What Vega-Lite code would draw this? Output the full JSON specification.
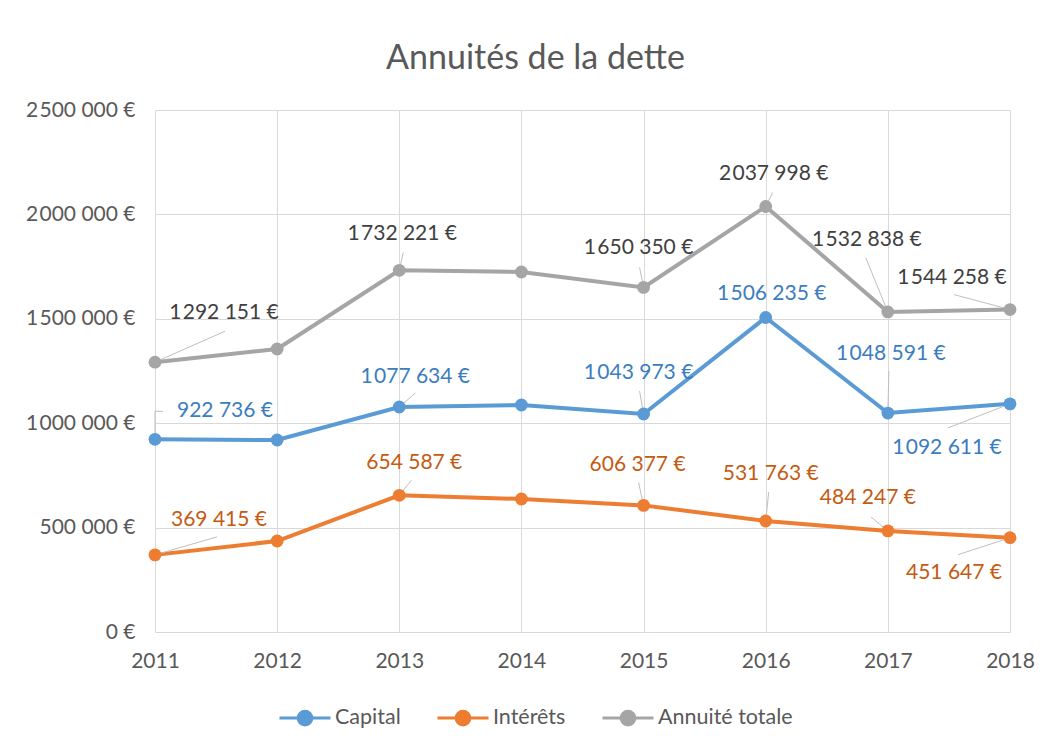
{
  "$schema": "https://vega.github.io/schema/vega-lite/v6.json",
  "width": 855,
  "height": 522,
  "autosize": {"type": "none"},
  "padding": {"left": 155, "top": 110, "right": 40, "bottom": 117},
  "background": "white",
  "title": {"text": "Annuités de la dette", "anchor": "middle", "frame": "group", "dx": -47, "offset": 23, "font": "Lato", "fontSize": 34, "fontWeight": "normal", "color": "#595959"},
  "config": {
    "view": {"stroke": null},
    "axis": {"labelFont": "Lato", "labelFontSize": 21, "labelColor": "#595959", "gridColor": "#D9D9D9", "gridWidth": 1, "domain": false, "ticks": false, "title": null},
    "text": {"font": "Lato", "fontSize": 21}
  },
  "data": {
    "values": [
      {"annee": "2011", "serie": "Capital", "montant": 922736},
      {"annee": "2012", "serie": "Capital", "montant": 919500},
      {"annee": "2013", "serie": "Capital", "montant": 1077634},
      {"annee": "2014", "serie": "Capital", "montant": 1087000},
      {"annee": "2015", "serie": "Capital", "montant": 1043973},
      {"annee": "2016", "serie": "Capital", "montant": 1506235},
      {"annee": "2017", "serie": "Capital", "montant": 1048591},
      {"annee": "2018", "serie": "Capital", "montant": 1092611},
      {"annee": "2011", "serie": "Intérêts", "montant": 369415},
      {"annee": "2012", "serie": "Intérêts", "montant": 435800},
      {"annee": "2013", "serie": "Intérêts", "montant": 654587},
      {"annee": "2014", "serie": "Intérêts", "montant": 637000},
      {"annee": "2015", "serie": "Intérêts", "montant": 606377},
      {"annee": "2016", "serie": "Intérêts", "montant": 531763},
      {"annee": "2017", "serie": "Intérêts", "montant": 484247},
      {"annee": "2018", "serie": "Intérêts", "montant": 451647},
      {"annee": "2011", "serie": "Annuité totale", "montant": 1292151},
      {"annee": "2012", "serie": "Annuité totale", "montant": 1355300},
      {"annee": "2013", "serie": "Annuité totale", "montant": 1732221},
      {"annee": "2014", "serie": "Annuité totale", "montant": 1724000},
      {"annee": "2015", "serie": "Annuité totale", "montant": 1650350},
      {"annee": "2016", "serie": "Annuité totale", "montant": 2037998},
      {"annee": "2017", "serie": "Annuité totale", "montant": 1532838},
      {"annee": "2018", "serie": "Annuité totale", "montant": 1544258}
    ]
  },
  "transform": [
    {"calculate": "replace(replace(format(datum.montant, ',d'), regexp(',([0-9]{3})$'), ' $1'), regexp(',', 'g'), '\u200a') + ' €'", "as": "label"}
  ],
  "encoding": {
    "x": {"field": "annee", "type": "ordinal", "scale": {"type": "point", "padding": 0}, "axis": {"labelAngle": 0, "labelPadding": 18, "grid": true}},
    "y": {"field": "montant", "type": "quantitative", "scale": {"domain": [0, 2500000]}, "axis": {"values": [0, 500000, 1000000, 1500000, 2000000, 2500000], "labelPadding": 20, "grid": true, "labelExpr": "replace(replace(format(datum.value, ',d'), regexp(',([0-9]{3})$'), ' $1'), regexp(',', 'g'), '\u200a') + ' €'"}}
  },
  "layer": [
    {
      "mark": {"type": "line", "strokeWidth": 4},
      "encoding": {
        "color": {"field": "serie", "type": "nominal",
          "scale": {"domain": ["Capital", "Intérêts", "Annuité totale"], "range": ["#5B9BD5", "#ED7D31", "#A5A5A5"]},
          "legend": {"orient": "none", "legendX": 123, "legendY": 581, "direction": "horizontal", "title": null, "padding": 0,
            "symbolType": "M-1,0L1,0M-0.27,0A0.27,0.27,0,1,1,0.27,0A0.27,0.27,0,1,1,-0.27,0Z",
            "symbolSize": 2600, "symbolStrokeWidth": 3, "labelFont": "Lato", "labelFontSize": 21.5, "labelColor": "#595959", "columnPadding": 30, "labelOffset": 3,
            "encode": {"symbols": {"update": {"fill": {"scale": "color", "field": "value"}, "stroke": {"scale": "color", "field": "value"}}}}}
        }
      }
    },
    {"transform": [{"filter": "datum.serie === 'Annuité totale' && datum.annee === '2011'"}], "mark": {"type": "rule", "color": "#BFBFBF", "strokeWidth": 1, "x2Offset": 70, "y2Offset": -31}, "encoding": {"x2": {"field": "annee"}, "y2": {"field": "montant"}}},
    {"transform": [{"filter": "datum.serie === 'Annuité totale' && datum.annee === '2013'"}], "mark": {"type": "rule", "color": "#BFBFBF", "strokeWidth": 1, "x2Offset": 4, "y2Offset": -18}, "encoding": {"x2": {"field": "annee"}, "y2": {"field": "montant"}}},
    {"transform": [{"filter": "datum.serie === 'Annuité totale' && datum.annee === '2015'"}], "mark": {"type": "rule", "color": "#BFBFBF", "strokeWidth": 1, "x2Offset": -4, "y2Offset": -20}, "encoding": {"x2": {"field": "annee"}, "y2": {"field": "montant"}}},
    {"transform": [{"filter": "datum.serie === 'Annuité totale' && datum.annee === '2016'"}], "mark": {"type": "rule", "color": "#BFBFBF", "strokeWidth": 1, "x2Offset": 7, "y2Offset": -14}, "encoding": {"x2": {"field": "annee"}, "y2": {"field": "montant"}}},
    {"transform": [{"filter": "datum.serie === 'Annuité totale' && datum.annee === '2017'"}], "mark": {"type": "rule", "color": "#BFBFBF", "strokeWidth": 1, "x2Offset": -22, "y2Offset": -54}, "encoding": {"x2": {"field": "annee"}, "y2": {"field": "montant"}}},
    {"transform": [{"filter": "datum.serie === 'Annuité totale' && datum.annee === '2018'"}], "mark": {"type": "rule", "color": "#BFBFBF", "strokeWidth": 1, "x2Offset": -56, "y2Offset": -15}, "encoding": {"x2": {"field": "annee"}, "y2": {"field": "montant"}}},
    {"transform": [{"filter": "datum.serie === 'Capital' && datum.annee === '2011'"}], "mark": {"type": "rule", "color": "#BFBFBF", "strokeWidth": 1, "x2Offset": 0, "y2Offset": -28}, "encoding": {"x2": {"field": "annee"}, "y2": {"field": "montant"}}},
    {"transform": [{"filter": "datum.serie === 'Capital' && datum.annee === '2011'"}], "mark": {"type": "rule", "color": "#BFBFBF", "strokeWidth": 1, "yOffset": -28, "x2Offset": 8, "y2Offset": -28}, "encoding": {"x2": {"field": "annee"}, "y2": {"field": "montant"}}},
    {"transform": [{"filter": "datum.serie === 'Capital' && datum.annee === '2013'"}], "mark": {"type": "rule", "color": "#BFBFBF", "strokeWidth": 1, "x2Offset": 16, "y2Offset": -14}, "encoding": {"x2": {"field": "annee"}, "y2": {"field": "montant"}}},
    {"transform": [{"filter": "datum.serie === 'Capital' && datum.annee === '2015'"}], "mark": {"type": "rule", "color": "#BFBFBF", "strokeWidth": 1, "x2Offset": -4, "y2Offset": -23}, "encoding": {"x2": {"field": "annee"}, "y2": {"field": "montant"}}},
    {"transform": [{"filter": "datum.serie === 'Capital' && datum.annee === '2017'"}], "mark": {"type": "rule", "color": "#BFBFBF", "strokeWidth": 1, "x2Offset": 1, "y2Offset": -42}, "encoding": {"x2": {"field": "annee"}, "y2": {"field": "montant"}}},
    {"transform": [{"filter": "datum.serie === 'Capital' && datum.annee === '2018'"}], "mark": {"type": "rule", "color": "#BFBFBF", "strokeWidth": 1, "x2Offset": -62, "y2Offset": 24}, "encoding": {"x2": {"field": "annee"}, "y2": {"field": "montant"}}},
    {"transform": [{"filter": "datum.serie === 'Intérêts' && datum.annee === '2011'"}], "mark": {"type": "rule", "color": "#BFBFBF", "strokeWidth": 1, "x2Offset": 62, "y2Offset": -18}, "encoding": {"x2": {"field": "annee"}, "y2": {"field": "montant"}}},
    {"transform": [{"filter": "datum.serie === 'Intérêts' && datum.annee === '2013'"}], "mark": {"type": "rule", "color": "#BFBFBF", "strokeWidth": 1, "x2Offset": 12, "y2Offset": -15}, "encoding": {"x2": {"field": "annee"}, "y2": {"field": "montant"}}},
    {"transform": [{"filter": "datum.serie === 'Intérêts' && datum.annee === '2015'"}], "mark": {"type": "rule", "color": "#BFBFBF", "strokeWidth": 1, "x2Offset": -5, "y2Offset": -23}, "encoding": {"x2": {"field": "annee"}, "y2": {"field": "montant"}}},
    {"transform": [{"filter": "datum.serie === 'Intérêts' && datum.annee === '2016'"}], "mark": {"type": "rule", "color": "#BFBFBF", "strokeWidth": 1, "x2Offset": 3, "y2Offset": -29}, "encoding": {"x2": {"field": "annee"}, "y2": {"field": "montant"}}},
    {"transform": [{"filter": "datum.serie === 'Intérêts' && datum.annee === '2017'"}], "mark": {"type": "rule", "color": "#BFBFBF", "strokeWidth": 1, "x2Offset": -17, "y2Offset": -14}, "encoding": {"x2": {"field": "annee"}, "y2": {"field": "montant"}}},
    {"transform": [{"filter": "datum.serie === 'Intérêts' && datum.annee === '2018'"}], "mark": {"type": "rule", "color": "#BFBFBF", "strokeWidth": 1, "x2Offset": -52, "y2Offset": 17}, "encoding": {"x2": {"field": "annee"}, "y2": {"field": "montant"}}},
    {
      "mark": {"type": "point", "filled": true, "opacity": 1, "size": 165},
      "encoding": {"color": {"field": "serie", "type": "nominal"}}
    },
    {"transform": [{"filter": "datum.serie === 'Annuité totale' && datum.annee === '2011'"}], "mark": {"type": "text", "dx": 69, "dy": -49, "color": "#404040"}, "encoding": {"text": {"field": "label"}}},
    {"transform": [{"filter": "datum.serie === 'Annuité totale' && datum.annee === '2013'"}], "mark": {"type": "text", "dx": 3, "dy": -36, "color": "#404040"}, "encoding": {"text": {"field": "label"}}},
    {"transform": [{"filter": "datum.serie === 'Annuité totale' && datum.annee === '2015'"}], "mark": {"type": "text", "dx": -5, "dy": -39, "color": "#404040"}, "encoding": {"text": {"field": "label"}}},
    {"transform": [{"filter": "datum.serie === 'Annuité totale' && datum.annee === '2016'"}], "mark": {"type": "text", "dx": 8, "dy": -32, "color": "#404040"}, "encoding": {"text": {"field": "label"}}},
    {"transform": [{"filter": "datum.serie === 'Annuité totale' && datum.annee === '2017'"}], "mark": {"type": "text", "dx": -21, "dy": -72, "color": "#404040"}, "encoding": {"text": {"field": "label"}}},
    {"transform": [{"filter": "datum.serie === 'Annuité totale' && datum.annee === '2018'"}], "mark": {"type": "text", "dx": -58, "dy": -32, "color": "#404040"}, "encoding": {"text": {"field": "label"}}},
    {"transform": [{"filter": "datum.serie === 'Capital' && datum.annee === '2011'"}], "mark": {"type": "text", "dx": 70, "dy": -28, "color": "#3A7DC0"}, "encoding": {"text": {"field": "label"}}},
    {"transform": [{"filter": "datum.serie === 'Capital' && datum.annee === '2013'"}], "mark": {"type": "text", "dx": 16, "dy": -30, "color": "#3A7DC0"}, "encoding": {"text": {"field": "label"}}},
    {"transform": [{"filter": "datum.serie === 'Capital' && datum.annee === '2015'"}], "mark": {"type": "text", "dx": -5, "dy": -41, "color": "#3A7DC0"}, "encoding": {"text": {"field": "label"}}},
    {"transform": [{"filter": "datum.serie === 'Capital' && datum.annee === '2016'"}], "mark": {"type": "text", "dx": 6, "dy": -23, "color": "#3A7DC0"}, "encoding": {"text": {"field": "label"}}},
    {"transform": [{"filter": "datum.serie === 'Capital' && datum.annee === '2017'"}], "mark": {"type": "text", "dx": 3, "dy": -59, "color": "#3A7DC0"}, "encoding": {"text": {"field": "label"}}},
    {"transform": [{"filter": "datum.serie === 'Capital' && datum.annee === '2018'"}], "mark": {"type": "text", "dx": -63, "dy": 44, "color": "#3A7DC0"}, "encoding": {"text": {"field": "label"}}},
    {"transform": [{"filter": "datum.serie === 'Intérêts' && datum.annee === '2011'"}], "mark": {"type": "text", "dx": 64, "dy": -35, "color": "#C55A11"}, "encoding": {"text": {"field": "label"}}},
    {"transform": [{"filter": "datum.serie === 'Intérêts' && datum.annee === '2013'"}], "mark": {"type": "text", "dx": 15, "dy": -32, "color": "#C55A11"}, "encoding": {"text": {"field": "label"}}},
    {"transform": [{"filter": "datum.serie === 'Intérêts' && datum.annee === '2015'"}], "mark": {"type": "text", "dx": -6, "dy": -40, "color": "#C55A11"}, "encoding": {"text": {"field": "label"}}},
    {"transform": [{"filter": "datum.serie === 'Intérêts' && datum.annee === '2016'"}], "mark": {"type": "text", "dx": 5, "dy": -47, "color": "#C55A11"}, "encoding": {"text": {"field": "label"}}},
    {"transform": [{"filter": "datum.serie === 'Intérêts' && datum.annee === '2017'"}], "mark": {"type": "text", "dx": -20, "dy": -33, "color": "#C55A11"}, "encoding": {"text": {"field": "label"}}},
    {"transform": [{"filter": "datum.serie === 'Intérêts' && datum.annee === '2018'"}], "mark": {"type": "text", "dx": -56, "dy": 35, "color": "#C55A11"}, "encoding": {"text": {"field": "label"}}}
  ]
}
